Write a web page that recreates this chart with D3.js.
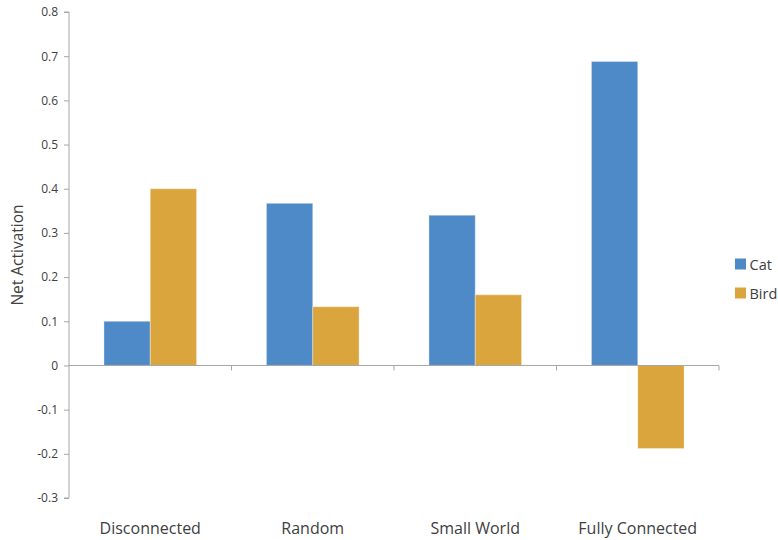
<!DOCTYPE html>
<html>
<head>
<meta charset="utf-8">
<script src="https://cdn.jsdelivr.net/npm/d3@7"></script>
<style>
  body { margin: 0; background: #fff; }
  svg { display: block; }
  text { font-family: "Open Sans", "Liberation Sans", sans-serif; fill: #404040; }
</style>
</head>
<body>
<svg id="chart" width="778" height="540"></svg>
<script>
const categories = ["Disconnected", "Random", "Small World", "Fully Connected"];
const seriesNames = ["Cat", "Bird"];
const catValues = [0.1, 0.367, 0.34, 0.688];
const birdValues = [0.4, 0.133, 0.16, -0.188];
const yTicks = [-0.3, -0.2, -0.1, 0, 0.1, 0.2, 0.3, 0.4, 0.5, 0.6, 0.7, 0.8];
const colors = ["#4e8ac8", "#dba53e"];

(function () {
const svg = d3.select("#chart");
const mLeft = 69, mRight = 719, mTop = 12, mBottom = 498;

const x = d3.scaleBand().domain(categories).range([mLeft, mRight]).padding(0);
const y = d3.scaleLinear().domain([-0.3, 0.8]).range([mBottom, mTop]);
const bw = x.bandwidth();
const xs = d3.scaleBand().domain(seriesNames).range([bw * 0.215, bw * 0.785]).padding(0);

const data = categories.map((c, i) => ({ cat: c, vals: [catValues[i], birdValues[i]] }));

// bars
const g = svg.append("g");
data.forEach(d => {
  d.vals.forEach((v, j) => {
    g.append("rect")
      .attr("x", x(d.cat) + xs(seriesNames[j]))
      .attr("width", xs.bandwidth())
      .attr("y", y(Math.max(0, v)))
      .attr("height", Math.abs(y(v) - y(0)))
      .attr("fill", colors[j])
      .attr("stroke", "#ffffff")
      .attr("stroke-opacity", 0.35)
      .attr("stroke-width", 1);
  });
});

// y axis
const yAxis = d3.axisLeft(y).tickValues(yTicks).tickSize(5).tickPadding(6)
  .tickFormat(d => d === 0 ? "0" : (d < 0 ? "-" : "") + d3.format(".1f")(Math.abs(d)));
const ya = svg.append("g").attr("transform", `translate(${mLeft},0)`).call(yAxis);
ya.select(".domain").attr("stroke", "#a6a6a6").attr("d", `M-5,${mTop}H0V${mBottom}H-5`);
ya.selectAll(".tick line").attr("stroke", "#a6a6a6");
ya.selectAll(".tick text").style("font-size", "12px").attr("fill", "#404040");

// x axis at zero
const xa = svg.append("g").attr("transform", `translate(0,${y(0)})`);
xa.append("line").attr("x1", mLeft).attr("x2", mRight).attr("y1", 0).attr("y2", 0)
  .attr("stroke", "#a6a6a6");
categories.forEach(c => {
  const xe = x(c) + bw;
  xa.append("line").attr("x1", xe).attr("x2", xe).attr("y1", 0).attr("y2", 5)
    .attr("stroke", "#a6a6a6");
});

// category labels
svg.append("g").selectAll("text").data(categories).join("text")
  .attr("x", d => x(d) + bw / 2)
  .attr("y", 534)
  .attr("text-anchor", "middle")
  .style("font-size", "16px")
  .text(d => d);

// y title
svg.append("text")
  .attr("transform", `translate(23,${(mTop + mBottom) / 2}) rotate(-90)`)
  .attr("text-anchor", "middle")
  .style("font-size", "15.5px")
  .text("Net Activation");

// legend
const lg = svg.append("g");
seriesNames.forEach((s, i) => {
  const cy = 264 + i * 29;
  lg.append("rect").attr("x", 735).attr("y", cy - 5.5).attr("width", 11).attr("height", 11)
    .attr("fill", colors[i]);
  lg.append("text").attr("x", 749.5).attr("y", cy + 5.5).style("font-size", "14.5px").text(s);
});
})();
</script>
</body>
</html>
